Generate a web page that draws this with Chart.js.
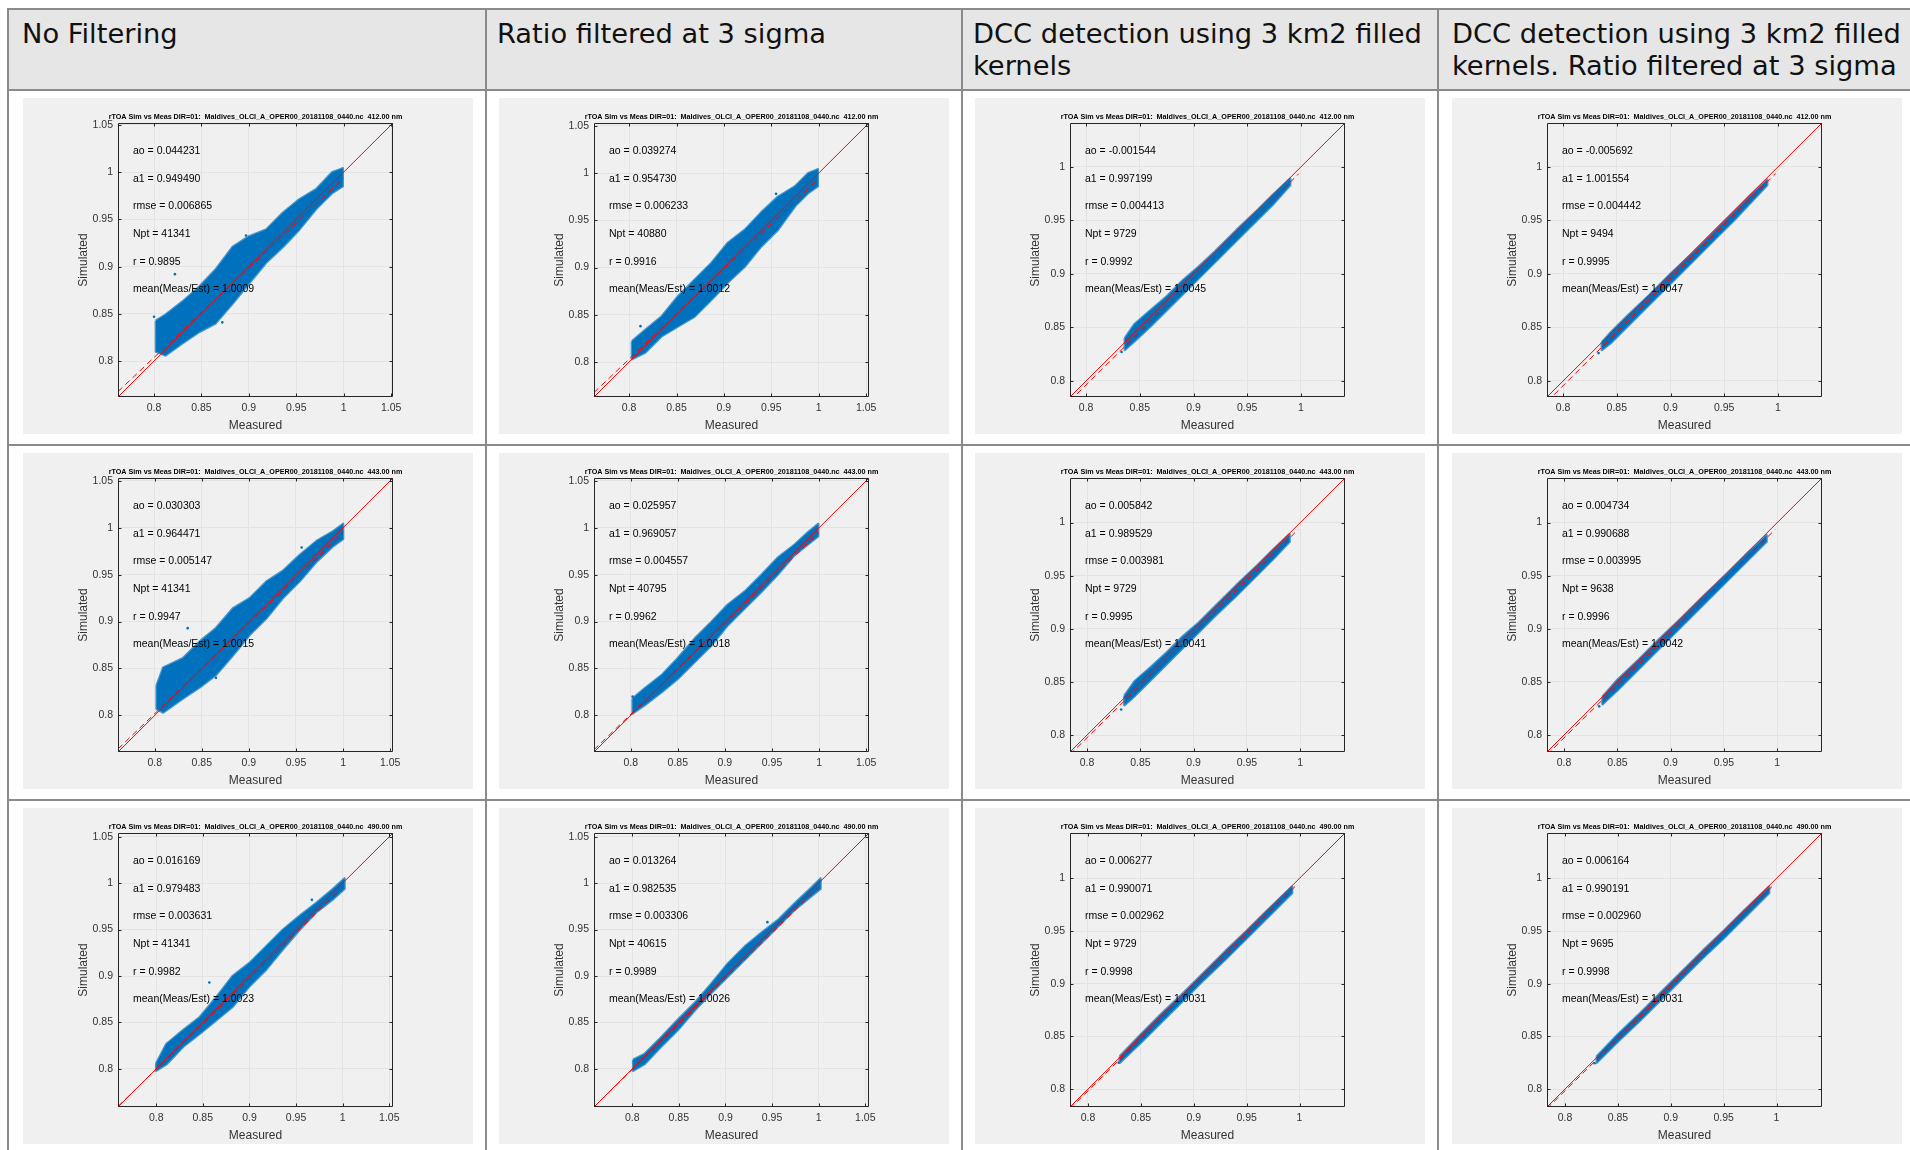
<!DOCTYPE html>
<html lang="en">
<head>
<meta charset="UTF-8">
<title>rTOA Sim vs Meas - Maldives OLCI A</title>
<script src="https://cdn.jsdelivr.net/npm/chart.js"></script>
<style>
  body { margin: 0; width: 1910px; height: 1150px; overflow: hidden; background: #fff; position: relative; }
  .rule { position: absolute; background: #8a8a8a; }
  .head { position: absolute; top: 8px; left: 8px; width: 1902px; height: 82px; background: #e6e6e6; }
  .head-text { position: absolute; top: 18px; font-family: "DejaVu Sans", Verdana, sans-serif; font-size: 27.3px; line-height: 32px; color: #111; white-space: nowrap; }
  .panel { position: absolute; width: 450px; height: 336px; background: #f0f0f0; }
  .panel canvas { display: block; }
</style>
</head>
<body>
<div class="head"></div>
<div class="head-text" style="left:22px">No Filtering</div>
<div class="head-text" style="left:497px">Ratio filtered at 3 sigma</div>
<div class="head-text" style="left:973px">DCC detection using 3 km2 filled<br>kernels</div>
<div class="head-text" style="left:1452px">DCC detection using 3 km2 filled<br>kernels. Ratio filtered at 3 sigma</div>

<div class="rule" style="left:7px;top:8px;width:1903px;height:2px"></div>
<div class="rule" style="left:7px;top:89px;width:1903px;height:2px"></div>
<div class="rule" style="left:7px;top:444px;width:1903px;height:2px"></div>
<div class="rule" style="left:7px;top:799px;width:1903px;height:2px"></div>
<div class="rule" style="left:7px;top:8px;width:2px;height:1142px"></div>
<div class="rule" style="left:485px;top:8px;width:2px;height:1142px"></div>
<div class="rule" style="left:961px;top:8px;width:2px;height:1142px"></div>
<div class="rule" style="left:1437px;top:8px;width:2px;height:1142px"></div>

<div id="panels"></div>

<script>
// wavelength of each row
const bandsNm = ['412.00', '443.00', '490.00'];

// axis limits (same for Measured and Simulated), [row][col]
const axisLo = [[0.762, 0.763, 0.785, 0.785], [0.761, 0.761, 0.784, 0.784], [0.759, 0.759, 0.783, 0.783]];
const axisHi = [[1.052, 1.053, 1.041, 1.041], [1.053, 1.053, 1.042, 1.042], [1.054, 1.054, 1.043, 1.043]];
const ticksWide = [0.8, 0.85, 0.9, 0.95, 1, 1.05];
const ticksNarrow = [0.8, 0.85, 0.9, 0.95, 1];

// regression results printed in each panel
const coefA0 = [[0.044231, 0.039274, -0.001544, -0.005692], [0.030303, 0.025957, 0.005842, 0.004734], [0.016169, 0.013264, 0.006277, 0.006164]];
const coefA1 = [[0.949490, 0.954730, 0.997199, 1.001554], [0.964471, 0.969057, 0.989529, 0.990688], [0.979483, 0.982535, 0.990071, 0.990191]];
const rmseVals = [[0.006865, 0.006233, 0.004413, 0.004442], [0.005147, 0.004557, 0.003981, 0.003995], [0.003631, 0.003306, 0.002962, 0.002960]];
const nptVals = [[41341, 40880, 9729, 9494], [41341, 40795, 9729, 9638], [41341, 40615, 9729, 9695]];
const rVals = [[0.9895, 0.9916, 0.9992, 0.9995], [0.9947, 0.9962, 0.9995, 0.9996], [0.9982, 0.9989, 0.9998, 0.9998]];
const meanVals = [[1.0009, 1.0012, 1.0045, 1.0047], [1.0015, 1.0018, 1.0041, 1.0042], [1.0023, 1.0026, 1.0031, 1.0031]];
// the fit line runs from the left axis limit to the largest measured value
const fitEnd = [1.0, 1.0, 0.998, 0.998];

// outline of each point cloud: measured value, upper and lower simulated edge
const x11 = [0.802, 0.812, 0.830, 0.848, 0.865, 0.883, 0.900, 0.918, 0.936, 0.953, 0.971, 0.988, 0.999];
const hi11 = [0.843, 0.849, 0.863, 0.879, 0.897, 0.921, 0.932, 0.939, 0.957, 0.971, 0.982, 1.000, 1.004];
const lo11 = [0.810, 0.806, 0.819, 0.831, 0.840, 0.861, 0.882, 0.904, 0.921, 0.939, 0.961, 0.978, 0.985];
const x12 = [0.803, 0.817, 0.834, 0.852, 0.869, 0.887, 0.904, 0.922, 0.939, 0.957, 0.975, 0.989, 0.999];
const hi12 = [0.822, 0.834, 0.848, 0.870, 0.887, 0.905, 0.926, 0.940, 0.958, 0.975, 0.986, 1.000, 1.004];
const lo12 = [0.803, 0.810, 0.827, 0.838, 0.848, 0.866, 0.884, 0.901, 0.922, 0.940, 0.965, 0.979, 0.986];
const x13 = [0.836, 0.845, 0.860, 0.875, 0.890, 0.905, 0.920, 0.940, 0.960, 0.975, 0.990];
const hi13 = [0.840, 0.853, 0.866, 0.879, 0.894, 0.907, 0.921, 0.941, 0.960, 0.975, 0.989];
const lo13 = [0.829, 0.837, 0.851, 0.866, 0.881, 0.896, 0.911, 0.931, 0.951, 0.966, 0.983];
const x14 = [0.836, 0.845, 0.860, 0.880, 0.900, 0.920, 0.940, 0.960, 0.975, 0.990];
const hi14 = [0.836, 0.846, 0.861, 0.880, 0.900, 0.919, 0.939, 0.959, 0.974, 0.988];
const lo14 = [0.829, 0.836, 0.851, 0.871, 0.891, 0.911, 0.931, 0.951, 0.967, 0.983];

const x21 = [0.802, 0.809, 0.830, 0.848, 0.865, 0.883, 0.901, 0.919, 0.936, 0.954, 0.972, 0.989, 1.000];
const hi21 = [0.832, 0.851, 0.861, 0.879, 0.893, 0.914, 0.925, 0.943, 0.954, 0.971, 0.986, 0.996, 1.004];
const lo21 = [0.807, 0.803, 0.818, 0.830, 0.843, 0.864, 0.886, 0.904, 0.925, 0.943, 0.964, 0.980, 0.988];
const x22 = [0.802, 0.815, 0.833, 0.850, 0.868, 0.886, 0.903, 0.921, 0.939, 0.956, 0.974, 0.988, 0.999];
const hi22 = [0.818, 0.829, 0.843, 0.861, 0.882, 0.900, 0.918, 0.932, 0.950, 0.968, 0.982, 0.995, 1.004];
const lo22 = [0.802, 0.811, 0.825, 0.839, 0.857, 0.875, 0.896, 0.914, 0.932, 0.950, 0.971, 0.982, 0.991];
const x23 = [0.835, 0.845, 0.860, 0.875, 0.890, 0.905, 0.920, 0.940, 0.960, 0.975, 0.990];
const hi23 = [0.837, 0.851, 0.864, 0.878, 0.893, 0.906, 0.921, 0.941, 0.960, 0.975, 0.989];
const lo23 = [0.828, 0.837, 0.852, 0.867, 0.882, 0.897, 0.912, 0.931, 0.951, 0.966, 0.982];
const x24 = [0.836, 0.850, 0.870, 0.890, 0.910, 0.930, 0.950, 0.970, 0.990];
const hi24 = [0.836, 0.852, 0.871, 0.891, 0.910, 0.930, 0.949, 0.969, 0.988];
const lo24 = [0.829, 0.842, 0.862, 0.882, 0.902, 0.922, 0.942, 0.962, 0.982];

const x31 = [0.800, 0.811, 0.829, 0.847, 0.865, 0.882, 0.900, 0.918, 0.936, 0.954, 0.972, 0.990, 1.002];
const hi31 = [0.806, 0.827, 0.842, 0.856, 0.878, 0.900, 0.914, 0.932, 0.950, 0.965, 0.979, 0.994, 1.005];
const lo31 = [0.798, 0.805, 0.824, 0.838, 0.853, 0.867, 0.889, 0.907, 0.929, 0.950, 0.969, 0.983, 0.994];
const x32 = [0.801, 0.813, 0.831, 0.849, 0.867, 0.885, 0.903, 0.921, 0.939, 0.957, 0.975, 0.991, 1.002];
const hi32 = [0.810, 0.816, 0.834, 0.853, 0.871, 0.892, 0.914, 0.932, 0.947, 0.961, 0.979, 0.994, 1.005];
const lo32 = [0.798, 0.805, 0.824, 0.842, 0.863, 0.882, 0.900, 0.918, 0.936, 0.954, 0.972, 0.985, 0.994];
const x33 = [0.830, 0.850, 0.870, 0.890, 0.910, 0.930, 0.950, 0.970, 0.993];
const hi33 = [0.831, 0.852, 0.872, 0.891, 0.911, 0.931, 0.950, 0.970, 0.992];
const lo33 = [0.825, 0.844, 0.864, 0.884, 0.904, 0.923, 0.943, 0.963, 0.986];
const x34 = [0.830, 0.850, 0.870, 0.890, 0.910, 0.930, 0.950, 0.970, 0.993];
const hi34 = [0.831, 0.852, 0.871, 0.891, 0.911, 0.931, 0.950, 0.970, 0.992];
const lo34 = [0.825, 0.845, 0.864, 0.884, 0.904, 0.924, 0.943, 0.963, 0.986];

// isolated points away from the main cloud, [measured, simulated]
const out11 = [[0.800, 0.847], [0.822, 0.892], [0.872, 0.841], [0.897, 0.933]];
const out12 = [[0.812, 0.838], [0.955, 0.978]];
const out13 = [[0.833, 0.827]];
const out14 = [[0.833, 0.826]];
const out21 = [[0.835, 0.893], [0.865, 0.840], [0.956, 0.979]];
const out22 = [[0.802, 0.820]];
const out23 = [[0.832, 0.824]];
const out24 = [[0.833, 0.827]];
const out31 = [[0.857, 0.893], [0.967, 0.982]];
const out32 = [[0.945, 0.958]];
const out33 = [[0.829, 0.825]];
const out34 = [[0.828, 0.8245]];

const cloudX = [[x11, x12, x13, x14], [x21, x22, x23, x24], [x31, x32, x33, x34]];
const cloudHi = [[hi11, hi12, hi13, hi14], [hi21, hi22, hi23, hi24], [hi31, hi32, hi33, hi34]];
const cloudLo = [[lo11, lo12, lo13, lo14], [lo21, lo22, lo23, lo24], [lo31, lo32, lo33, lo34]];
const outliers = [[out11, out12, out13, out14], [out21, out22, out23, out24], [out31, out32, out33, out34]];

const panelLeft = [23, 499, 975, 1452];
const panelTop = [98, 453, 808];

const BLUE = '#0072bd';
const RED = '#ff0000';
const AXIS = '#262626';
const GRID = '#e3e3e3';
const FONT = '"Liberation Sans", Arial, sans-serif';

Chart.defaults.font.family = FONT;
Chart.defaults.animation = false;

// box with inward ticks, panel title and fit statistics (MATLAB look)
const panelDecor = {
  id: 'panelDecor',
  afterDatasetsDraw(chart, args, opts) {
    const { ctx, chartArea: a, scales } = chart;
    ctx.save();
    const L = Math.round(a.left) + 0.5, R = Math.round(a.right) - 0.5;
    const T = Math.round(a.top) + 0.5, B = Math.round(a.bottom) - 0.5;
    ctx.strokeStyle = AXIS;
    ctx.lineWidth = 1;
    ctx.beginPath();
    ctx.rect(L, T, R - L, B - T);
    scales.x.ticks.forEach(t => {
      const px = Math.round(scales.x.getPixelForValue(t.value)) + 0.5;
      ctx.moveTo(px, B); ctx.lineTo(px, B - 3);
      ctx.moveTo(px, T); ctx.lineTo(px, T + 3);
    });
    scales.y.ticks.forEach(t => {
      const py = Math.round(scales.y.getPixelForValue(t.value)) + 0.5;
      ctx.moveTo(L, py); ctx.lineTo(L + 3, py);
      ctx.moveTo(R, py); ctx.lineTo(R - 3, py);
    });
    ctx.stroke();

    ctx.fillStyle = '#000';
    ctx.font = '10.5px ' + FONT;
    ctx.textAlign = 'left';
    ctx.textBaseline = 'middle';
    opts.lines.forEach((s, i) => ctx.fillText(s, a.left + 15, a.top + 28 + i * 27.7));

    ctx.font = 'bold 7.2px ' + FONT;
    ctx.textAlign = 'center';
    ctx.fillText(opts.title, (a.left + a.right) / 2, a.top - 6);
    ctx.restore();
  }
};

function makePanel(r, c) {
  const box = document.createElement('div');
  box.className = 'panel';
  box.style.left = panelLeft[c] + 'px';
  box.style.top = panelTop[r] + 'px';
  const canvas = document.createElement('canvas');
  canvas.width = 450;
  canvas.height = 336;
  box.appendChild(canvas);
  document.getElementById('panels').appendChild(box);

  const lo = axisLo[r][c], hi = axisHi[r][c];
  const tickVals = c < 2 ? ticksWide : ticksNarrow;
  const a0 = coefA0[r][c], a1 = coefA1[r][c];

  // closed outline: upper edge left to right, lower edge back
  const xs = cloudX[r][c];
  const outline = xs.map((x, i) => ({ x, y: cloudHi[r][c][i] }));
  for (let i = xs.length - 1; i >= 0; i--) outline.push({ x: xs[i], y: cloudLo[r][c][i] });
  outline.push(outline[0]);

  const axisOpts = (title, isX) => ({
    type: 'linear',
    min: lo,
    max: hi,
    afterBuildTicks: ax => { ax.ticks = tickVals.map(v => ({ value: v })); },
    afterFit: s => { if (isX) s.height = 37; else s.width = 95; },
    grid: { color: GRID, lineWidth: 1, drawTicks: false },
    border: { display: false },
    ticks: { color: '#333', padding: 5, font: { size: 10.5 }, callback: v => String(v) },
    title: {
      display: true, text: title, color: '#333', font: { size: 12 },
      padding: isX ? { top: 0, bottom: 1 } : { top: 53, bottom: 0 }
    }
  });

  new Chart(canvas, {
    type: 'line',
    data: {
      datasets: [
        // soft edge stands in for the scattered markers along the border
        { data: outline, fill: 'shape', backgroundColor: BLUE, borderColor: 'rgba(0,114,189,0.7)',
          borderWidth: 2.5, borderJoinStyle: 'round', pointRadius: 0, tension: 0, order: 4 },
        { data: outliers[r][c].map(([x, y]) => ({ x, y })), showLine: false, pointRadius: 1.3,
          pointBackgroundColor: BLUE, pointBorderWidth: 0, order: 3 },
        { data: [{ x: lo, y: lo }, { x: hi, y: hi }], borderColor: RED, borderWidth: 1,
          pointRadius: 0, fill: false, order: 2 },
        { data: [{ x: lo, y: a0 + a1 * lo }, { x: fitEnd[c], y: a0 + a1 * fitEnd[c] }],
          borderColor: RED, borderWidth: 1, borderDash: [6, 4], pointRadius: 0, fill: false, order: 1 }
      ]
    },
    options: {
      responsive: false,
      events: [],
      layout: { padding: { left: 0, right: 80, top: 25, bottom: 0 } },
      scales: { x: axisOpts('Measured', true), y: axisOpts('Simulated', false) },
      plugins: {
        legend: { display: false },
        tooltip: { enabled: false },
        panelDecor: {
          title: 'rTOA Sim vs Meas DIR=01:  Maldives_OLCI_A_OPER00_20181108_0440.nc  ' + bandsNm[r] + ' nm',
          lines: [
            'ao = ' + a0.toFixed(6),
            'a1 = ' + a1.toFixed(6),
            'rmse = ' + rmseVals[r][c].toFixed(6),
            'Npt = ' + nptVals[r][c],
            'r = ' + rVals[r][c].toFixed(4),
            'mean(Meas/Est) = ' + meanVals[r][c].toFixed(4)
          ]
        }
      }
    },
    plugins: [panelDecor]
  });
}

for (let r = 0; r < 3; r++) {
  for (let c = 0; c < 4; c++) makePanel(r, c);
}
</script>
</body>
</html>
